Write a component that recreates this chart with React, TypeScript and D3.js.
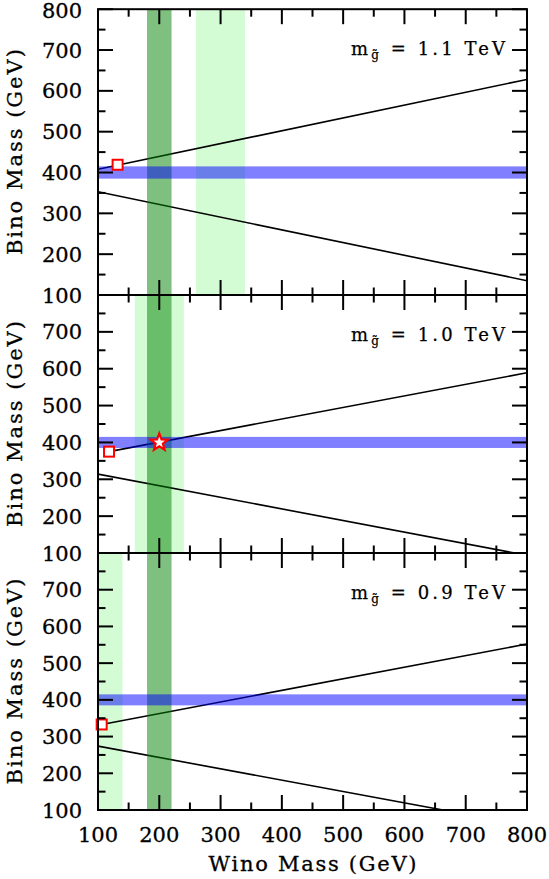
import React from "react";
import * as d3 from "d3";

const W = 549;
const H = 879;

// ---- data ----
const gluinoLabels = ["1.1", "1.0", "0.9"];
const lightBands: [number, number][] = [
  [260, 340],
  [160, 240],
  [100, 140],
];
const darkBands: [number, number][] = [
  [180, 220],
  [180, 220],
  [180, 220],
];
const binoBand: [number, number] = [385, 415];
const upperLines: [number, number][][] = [
  [[100, 408], [800, 628]],
  [[118, 375], [800, 589]],
  [[106, 333], [800, 552]],
];
const lowerLines: [number, number][][] = [
  [[100, 353], [800, 135]],
  [[100, 314], [780, 100]],
  [[100, 274], [663, 100]],
];
const squares: [number, number][] = [
  [132, 419],
  [118, 375],
  [106, 333],
];
const starPoint: [number, number] = [200, 400];
const starPanel = 1;
const xTicks = [100, 200, 300, 400, 500, 600, 700, 800];
const xMinor = [150, 250, 350, 450, 550, 650, 750];
const yTicks = [100, 200, 300, 400, 500, 600, 700, 800];
const yMinor = [150, 250, 350, 450, 550, 650, 750];
const yLabelSets = [
  [100, 200, 300, 400, 500, 600, 700, 800],
  [100, 200, 300, 400, 500, 600, 700],
  [100, 200, 300, 400, 500, 600, 700],
];

// ---- layout ----
const X0 = 98;
const X1 = 527;
const panelFrames: [number, number][] = [
  [9.2, 295],
  [295, 553],
  [553, 810],
];
const FONT = "'DejaVu Serif', serif";

const x = d3.scaleLinear().domain([100, 800]).range([X0, X1]);

function starPath(cx: number, cy: number, ro: number, ri: number) {
  const pts: [number, number][] = [];
  for (let i = 0; i < 10; i++) {
    const r = i % 2 === 0 ? ro : ri;
    const a = -Math.PI / 2 + (i * Math.PI) / 5;
    pts.push([cx + r * Math.cos(a), cy + r * Math.sin(a)]);
  }
  return d3.line()(pts) + "Z";
}

function Panel({ i }: { i: number }) {
  const [top, bottom] = panelFrames[i];
  const y = d3.scaleLinear().domain([100, 800]).range([bottom, top]);
  const clipId = `clip${i}`;
  const line = d3
    .line<[number, number]>()
    .x((d) => x(d[0]))
    .y((d) => y(d[1]));
  const MJ = 15;
  const MN = 7.5;
  return (
    <g>
      <defs>
        <clipPath id={clipId}>
          <rect x={X0} y={top} width={X1 - X0} height={bottom - top} />
        </clipPath>
      </defs>
      <g clipPath={`url(#${clipId})`}>
        <rect
          x={x(lightBands[i][0])}
          y={top}
          width={x(lightBands[i][1]) - x(lightBands[i][0])}
          height={bottom - top}
          fill="#d4fcd4"
        />
        <path d={line(upperLines[i] as [number, number][]) || ""} fill="none" stroke="#000" strokeWidth={1.6} />
        <path d={line(lowerLines[i] as [number, number][]) || ""} fill="none" stroke="#000" strokeWidth={1.6} />
        <rect
          x={x(darkBands[i][0])}
          y={top}
          width={x(darkBands[i][1]) - x(darkBands[i][0])}
          height={bottom - top}
          fill="rgba(0,128,0,0.5)"
        />
        <rect
          x={X0}
          y={y(binoBand[1])}
          width={X1 - X0}
          height={y(binoBand[0]) - y(binoBand[1])}
          fill="rgba(0,0,255,0.5)"
        />
      </g>
      <rect
        x={x(squares[i][0]) - 5}
        y={y(squares[i][1]) - 5}
        width={10}
        height={10}
        fill="#fff"
        stroke="#ff0000"
        strokeWidth={2}
      />
      {i === starPanel && (
        <path
          d={starPath(x(starPoint[0]), y(starPoint[1]), 9, 3.8)}
          fill="#fff"
          stroke="#ff0000"
          strokeWidth={2.2}
          strokeLinejoin="miter"
        />
      )}
      {/* frame */}
      <rect x={X0} y={top} width={X1 - X0} height={bottom - top} fill="none" stroke="#000" strokeWidth={2} />
      {xTicks.map((t) => (
        <g key={"xt" + t}>
          <line x1={x(t)} x2={x(t)} y1={bottom} y2={bottom - MJ} stroke="#000" strokeWidth={2} />
          <line x1={x(t)} x2={x(t)} y1={top} y2={top + MJ} stroke="#000" strokeWidth={2} />
        </g>
      ))}
      {xMinor.map((t) => (
        <g key={"xm" + t}>
          <line x1={x(t)} x2={x(t)} y1={bottom} y2={bottom - MN} stroke="#000" strokeWidth={2} />
          <line x1={x(t)} x2={x(t)} y1={top} y2={top + MN} stroke="#000" strokeWidth={2} />
        </g>
      ))}
      {yTicks.map((t) => (
        <g key={"yt" + t}>
          <line x1={X0} x2={X0 + MJ} y1={y(t)} y2={y(t)} stroke="#000" strokeWidth={2} />
          <line x1={X1} x2={X1 - MJ} y1={y(t)} y2={y(t)} stroke="#000" strokeWidth={2} />
        </g>
      ))}
      {yMinor.map((t) => (
        <g key={"ym" + t}>
          <line x1={X0} x2={X0 + MN} y1={y(t)} y2={y(t)} stroke="#000" strokeWidth={2} />
          <line x1={X1} x2={X1 - MN} y1={y(t)} y2={y(t)} stroke="#000" strokeWidth={2} />
        </g>
      ))}
      {yLabelSets[i].map((t) => (
        <text
          key={"yl" + t}
          x={82}
          y={Math.max(y(t), 10)}
          dy="0.36em"
          textAnchor="end"
          fontFamily={FONT}
          fontSize={21}
          fill="#000"
          stroke="#000"
          strokeWidth={0.3}
        >
          {t}
        </text>
      ))}
      <text
        transform={`translate(22,${(top + bottom) / 2}) rotate(-90)`}
        textAnchor="middle"
        fontFamily={FONT}
        fontSize={21}
        textLength={206}
        lengthAdjust="spacing"
        fill="#000"
        stroke="#000"
        strokeWidth={0.3}
      >
        Bino Mass (GeV)
      </text>
      <text
        x={351}
        y={top + 46}
        fontFamily={FONT}
        fontSize={18}
        textLength={154}
        lengthAdjust="spacing"
        fill="#000"
        stroke="#000"
        strokeWidth={0.25}
      >
        <tspan>m</tspan>
        <tspan fontSize={12} dy={4}>g̃</tspan>
        <tspan dy={-4}>{` = ${gluinoLabels[i]} TeV`}</tspan>
      </text>
    </g>
  );
}

export default function App() {
  const bottom = panelFrames[2][1];
  return (
    <svg
      width={W}
      height={H}
      style={{ position: "absolute", left: 0, top: 0, background: "#fff" }}
    >
      <rect width={W} height={H} fill="#fff" />
      {[0, 1, 2].map((i) => (
        <Panel key={i} i={i} />
      ))}
      {xTicks.map((t) => (
        <text
          key={"xl" + t}
          x={x(t)}
          y={bottom + 32}
          textAnchor="middle"
          fontFamily={FONT}
          fontSize={21}
          fill="#000"
          stroke="#000"
          strokeWidth={0.3}
        >
          {t}
        </text>
      ))}
      <text
        x={(X0 + X1) / 2}
        y={bottom + 61}
        textAnchor="middle"
        fontFamily={FONT}
        fontSize={21}
        textLength={208}
        lengthAdjust="spacing"
        fill="#000"
        stroke="#000"
        strokeWidth={0.3}
      >
        Wino Mass (GeV)
      </text>
    </svg>
  );
}
